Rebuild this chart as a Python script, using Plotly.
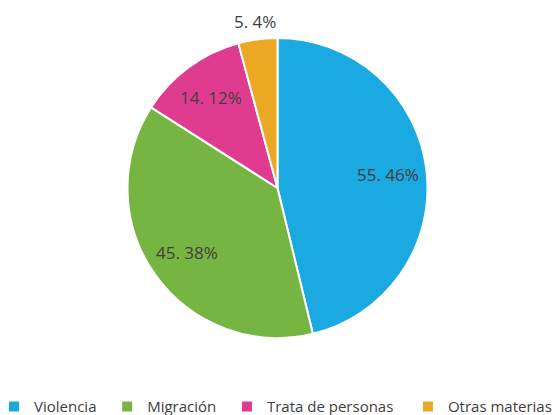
import math
import plotly.graph_objects as go

categories = ["Violencia", "Migración", "Trata de personas", "Otras materias"]
values = [55, 45, 14, 5]
percent_labels = ["46%", "38%", "12%", "4%"]
colors = ["#1BA9E1", "#77B543", "#E03C8F", "#EAA823"]

W, H = 558, 415
# pie geometry (pixels)
cx, cy, r = 277.5, 188, 150
label_radius = [0.74, 0.74, 0.75, 1.12]
legend_pad = [3, 3, 4, 0]

texts = [f"{v}. {p}" for v, p in zip(values, percent_labels)]
legend_names = [c + "\u00a0" * n for c, n in zip(categories, legend_pad)]

fig = go.Figure(go.Pie(
    labels=legend_names,
    values=values,
    textinfo="none",
    sort=False,
    direction="clockwise",
    rotation=0,
    marker=dict(colors=colors, line=dict(color="white", width=2)),
    domain=dict(x=[(cx - r) / W, (cx + r) / W], y=[1 - (cy + r) / H, 1 - (cy - r) / H]),
    hoverinfo="label+value",
))

total = sum(values)
cum = 0
for v, t, f in zip(values, texts, label_radius):
    mid = (cum + v / 2) / total * 2 * math.pi
    cum += v
    px = cx + f * r * math.sin(mid)
    py = cy - f * r * math.cos(mid)
    fig.add_annotation(
        x=px / W, y=1 - py / H, xref="paper", yref="paper",
        text=t, showarrow=False, xanchor="center", yanchor="middle",
        font=dict(family="Open Sans", size=17, color="#404040"),
    )

fig.update_layout(
    width=W, height=H,
    margin=dict(l=0, r=0, t=0, b=0, autoexpand=False),
    paper_bgcolor="white",
    plot_bgcolor="white",
    showlegend=True,
    legend=dict(
        orientation="h", x=0, xanchor="left", y=0.02, yanchor="middle",
        font=dict(family="Open Sans", size=15, color="#404040"),
        itemwidth=30,
        indentation=-6,
        traceorder="normal",
    ),
)

fig.write_html("out.html", config={"displayModeBar": False},
               post_script="document.body.style.margin='0';")
